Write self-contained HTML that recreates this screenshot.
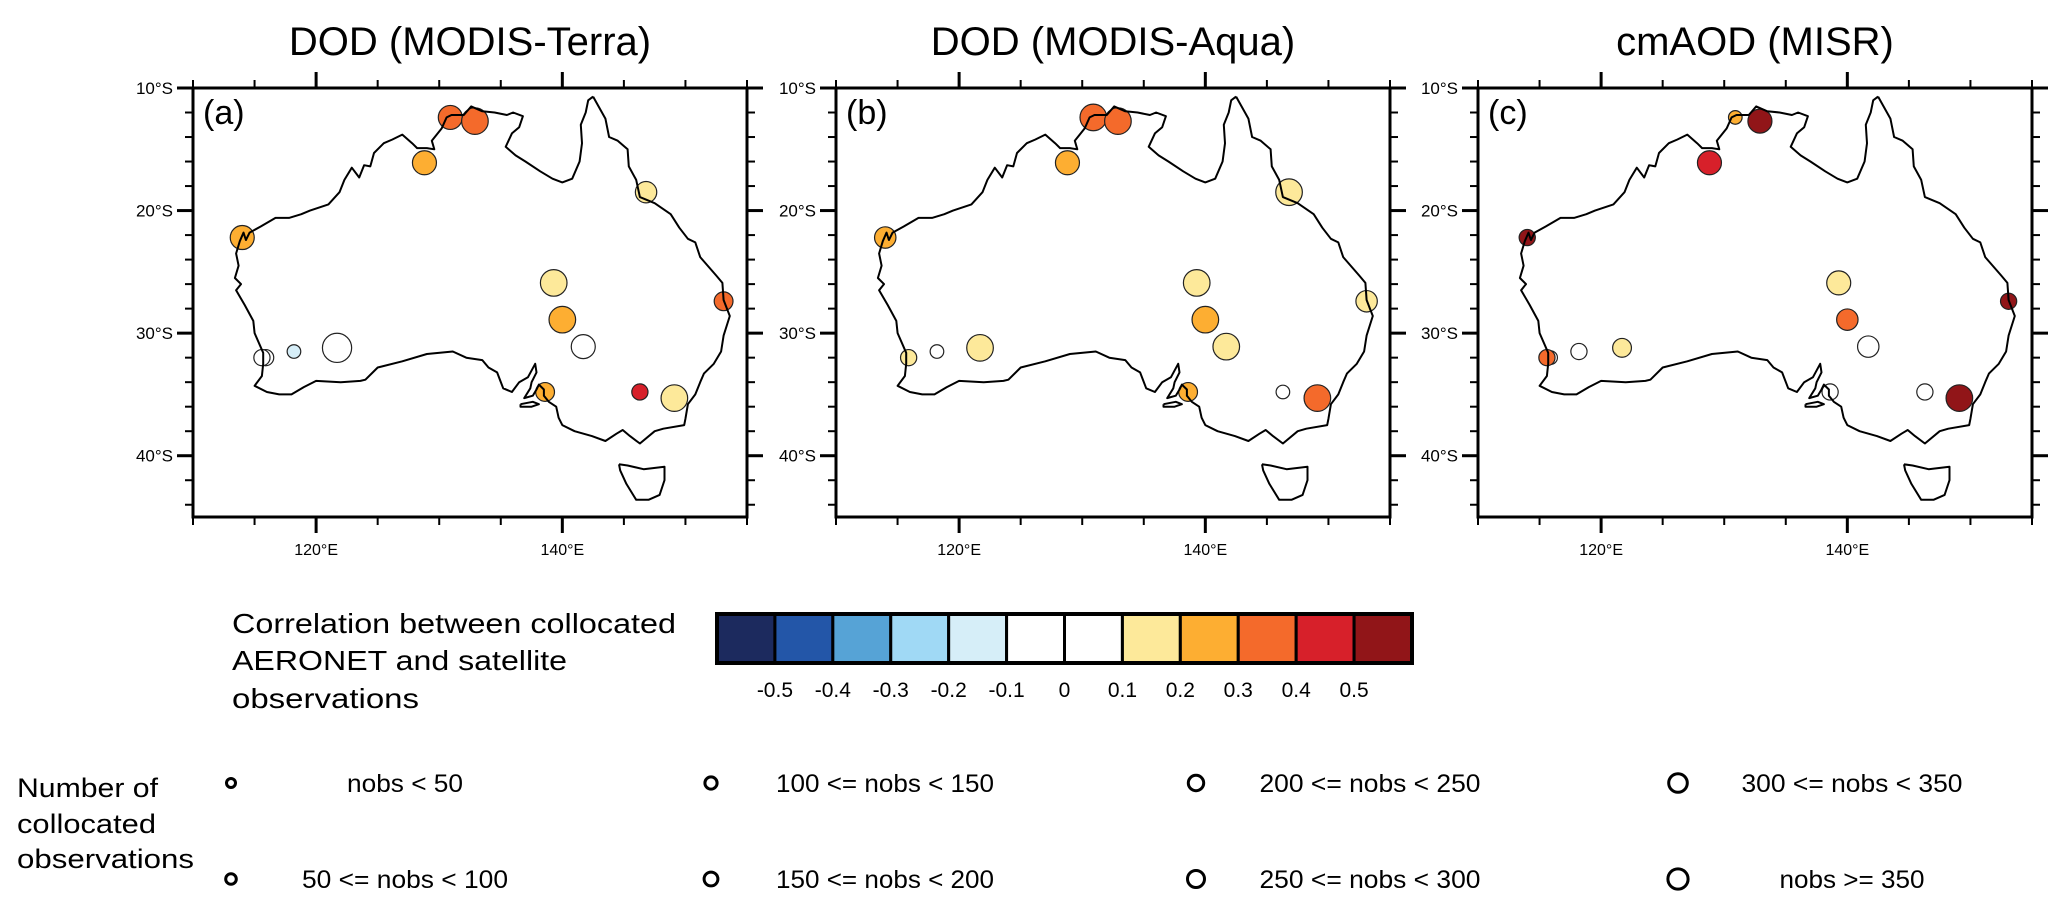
<!DOCTYPE html>
<html><head><meta charset="utf-8"><style>
html,body{margin:0;padding:0;background:#fff;}
svg{display:block;font-family:"Liberation Sans",Arial,sans-serif;}
</style></head><body>
<svg id="fig" width="2067" height="909" viewBox="0 0 2067 909"></svg>
<script>
// ---- data ----
const siteLon = [130.9,132.9,128.8,114.0,146.8,139.3,140.0,141.7,153.1,115.9,118.2,121.7,138.6,146.3,149.1,115.6];
const siteLat = [-12.4,-12.7,-16.1,-22.2,-18.5,-25.9,-28.9,-31.1,-27.4,-32.0,-31.5,-31.2,-34.8,-34.8,-35.3,-32.0];
const corrA = [0.35,0.35,0.25,0.25,0.15,0.15,0.25,0.05,0.35,0.05,-0.15,0.05,0.25,0.45,0.15,0.05];
const nobsA = [280,300,280,250,200,320,320,280,150,100,50,360,150,120,330,100];
const corrB = [0.35,0.35,0.25,0.25,0.15,0.15,0.25,0.15,0.15,0.15,0.05,0.15,0.25,0.05,0.35,NaN];
const nobsB = [300,330,280,200,320,300,320,300,200,100,60,300,150,60,320,NaN];
const corrC = [0.25,0.55,0.45,0.55,NaN,0.15,0.35,0.05,0.55,0.05,0.05,0.15,0.05,0.05,0.55,0.35];
const nobsC = [60,250,280,100,NaN,280,200,200,100,80,100,150,100,100,320,100];
const panelTitles = ["DOD (MODIS-Terra)","DOD (MODIS-Aqua)","cmAOD (MISR)"];
const panelLabels = ["(a)","(b)","(c)"];
const cbColors = ["#1c2a5e","#2356a8","#56a3d6","#a0d9f5","#d6eef8","#ffffff","#ffffff","#fde99a","#fdae32","#f46a2b","#d7202a","#911518"];
const cbTicks = ["-0.5","-0.4","-0.3","-0.2","-0.1","0","0.1","0.2","0.3","0.4","0.5"];
const latTicks = [-10,-20,-30,-40];
const lonTicks = [120,140];
const nobsLabels = ["nobs < 50","50 <= nobs < 100","100 <= nobs < 150","150 <= nobs < 200","200 <= nobs < 250","250 <= nobs < 300","300 <= nobs < 350","nobs >= 350"];
const coast = [[142.5,-10.7],[143.5,-12.5],[143.8,-14.0],[144.5,-14.3],[145.3,-15],[145.4,-16.4],[146.0,-17.5],[146.3,-18.9],[147.5,-19.4],[148.8,-20.3],[149.5,-21.4],[150.2,-22.3],[150.8,-22.6],[151.2,-23.8],[152.5,-25.3],[153.0,-25.9],[153.1,-27.3],[153.6,-28.6],[153.1,-30.2],[152.9,-31.5],[152.3,-32.5],[151.5,-33.3],[151.2,-34.0],[150.8,-35.0],[150.2,-35.8],[150.0,-37.0],[149.9,-37.5],[148.2,-37.8],[147.5,-38.0],[146.3,-39.0],[145.5,-38.4],[144.9,-37.9],[144.4,-38.2],[143.5,-38.8],[142.4,-38.4],[141.0,-38.0],[140.0,-37.5],[139.7,-36.9],[139.5,-36.0],[138.9,-35.6],[138.5,-35.1],[138.5,-34.6],[138.1,-34.2],[137.9,-34.6],[137.6,-35.1],[136.9,-35.3],[137.4,-34.5],[137.5,-34.0],[137.9,-33.2],[137.8,-32.5],[137.2,-33.6],[136.5,-34.0],[135.9,-34.8],[135.2,-34.5],[134.7,-33.2],[134.0,-32.8],[133.5,-32.2],[132.2,-32.0],[131.1,-31.5],[129.0,-31.7],[127.0,-32.3],[125.0,-32.8],[124.0,-33.8],[123.6,-33.9],[122.0,-34.0],[120.0,-33.9],[119.0,-34.4],[118.0,-35.0],[117.0,-35.0],[116.0,-34.8],[115.0,-34.3],[115.6,-33.5],[115.7,-32.5],[115.7,-31.6],[115.0,-30.0],[114.9,-29.0],[114.2,-27.7],[113.5,-26.5],[113.9,-26.0],[113.4,-25.5],[113.7,-24.5],[113.5,-23.5],[113.8,-22.5],[114.1,-21.8],[114.3,-22.4],[114.6,-21.8],[115.5,-21.3],[116.7,-20.6],[117.8,-20.6],[118.8,-20.3],[119.5,-20.0],[121.0,-19.5],[121.9,-18.5],[122.3,-17.5],[122.9,-16.5],[123.5,-17.3],[123.9,-16.3],[124.4,-16.4],[124.7,-15.3],[125.5,-14.5],[126.2,-14.2],[127.0,-13.8],[127.8,-14.5],[128.2,-14.9],[129.0,-14.9],[129.6,-15.0],[129.4,-14.3],[130.2,-13.3],[130.6,-12.4],[131.0,-12.2],[132.0,-12.2],[132.6,-11.5],[133.5,-11.9],[134.5,-12.0],[135.5,-12.2],[136.0,-12.0],[136.8,-12.3],[136.5,-13.2],[135.9,-13.7],[135.4,-14.8],[136.2,-15.5],[137.0,-16.0],[138.2,-16.8],[139.2,-17.4],[140.0,-17.7],[140.8,-17.4],[141.4,-16.0],[141.6,-14.5],[141.5,-13.0],[141.9,-12.0],[142.1,-11.0],[142.5,-10.7]];
const tasmania = [[144.6,-40.7],[145.3,-40.8],[146.6,-41.1],[148.3,-40.9],[148.3,-42.0],[147.9,-43.2],[147.0,-43.6],[146.0,-43.6],[145.2,-42.3],[144.7,-41.2],[144.6,-40.7]];
const kangaroo = [[136.6,-35.8],[137.6,-35.6],[138.1,-35.8],[137.5,-36.0],[136.6,-36.0],[136.6,-35.8]];

// ---- layout ----
const NS='http://www.w3.org/2000/svg';
const svg=document.getElementById('fig');
function mk(tag,attrs,parent){const e=document.createElementNS(NS,tag);for(const k in attrs)e.setAttribute(k,attrs[k]);(parent||svg).appendChild(e);return e;}
const panelX=[193,836,1478], PW=554, PT=88, PH=429;
const lon0=110, lon1=155, lat0=-10, lat1=-45;
function colorIdx(c){let i=Math.floor((c+0.5)/0.1+1e-9)+1;return Math.max(0,Math.min(11,i));}
function nobsClass(n){return Math.max(0,Math.min(7,Math.floor(n/50)));}
const corrs=[corrA,corrB,corrC], nobss=[nobsA,nobsB,nobsC];

for(let p=0;p<3;p++){
  const x0=panelX[p];
  const sx=lon=>x0+(lon-lon0)/(lon1-lon0)*PW;
  const sy=lat=>PT+(lat0-lat)/(lat0-lat1)*PH;
  const g=mk('g',{},svg);
  
  
  const t=mk('text',{x:x0+PW/2,y:55,'font-size':40,'text-anchor':'middle',fill:'#000'},g);
  
  
  t.textContent=panelTitles[p];
  const cp=mk('clipPath',{id:'clip'+p},g);
  mk('rect',{x:x0,y:PT,width:PW,height:PH},cp);
  const inner=mk('g',{'clip-path':'url(#clip'+p+')'},g);
  // sites
  for(let i=0;i<siteLon.length;i++){
    const c=corrs[p][i], n=nobss[p][i];
    if(isNaN(c))continue;
    const r=5.5+1.3*nobsClass(n);
    const ci=mk('circle',{cx:sx(siteLon[i]),cy:sy(siteLat[i]),r:r,fill:cbColors[colorIdx(c)],stroke:'#222','stroke-width':1.2},inner);
    
    
  }
  // coastline
  [coast,tasmania,kangaroo].forEach((poly,k)=>{
    const d=poly.map((q,j)=>(j?'L':'M')+sx(q[0]).toFixed(1)+' '+sy(q[1]).toFixed(1)).join(' ');
    const pa=mk('path',{d:d,fill:'none',stroke:'#000','stroke-width':2,'stroke-linejoin':'round'},inner);
    
    
  });
  // frame
  const fr=mk('rect',{x:x0,y:PT,width:PW,height:PH,fill:'none',stroke:'#000','stroke-width':3},g);
  
  
  // lat ticks every 2 deg
  for(let lat=-10;lat>=-45;lat-=2.5/1.25){
    const y=sy(lat), major=(Math.abs(lat)%10===0);
    const L=major?16:8;
    mk('line',{x1:x0-L,y1:y,x2:x0,y2:y,stroke:'#000','stroke-width':major?3:2},g);
    mk('line',{x1:x0+PW,y1:y,x2:x0+PW+L,y2:y,stroke:'#000','stroke-width':major?3:2},g);
  }
  latTicks.forEach(lat=>{
    const tt=mk('text',{x:x0-20,y:sy(lat)+6,'font-size':17,'text-anchor':'end'},g);
    
    
    tt.textContent=Math.abs(lat)+'°S';
  });
  for(let lon=110;lon<=155;lon+=5){
    const x=sx(lon), major=lonTicks.includes(lon);
    const L=major?16:8;
    mk('line',{x1:x,y1:PT,x2:x,y2:PT-L,stroke:'#000','stroke-width':major?3:2},g);
    mk('line',{x1:x,y1:PT+PH,x2:x,y2:PT+PH+L,stroke:'#000','stroke-width':major?3:2},g);
  }
  lonTicks.forEach(lon=>{
    const tt=mk('text',{x:sx(lon),y:555,'font-size':16,'text-anchor':'middle'},g);
    
    
    tt.textContent=lon+'°E';
  });
  const pl=mk('text',{x:x0+10,y:124,'font-size':34},g);
  
  
  pl.textContent=panelLabels[p];
}

// colorbar
const cbg=mk('g',{});


const cbX=717, cbY=614, cbW=695, cbH=49, bw=cbW/cbColors.length;
cbColors.forEach((c,i)=>{
  const r=mk('rect',{x:cbX+i*bw,y:cbY,width:bw,height:cbH,fill:c,stroke:'#000','stroke-width':3},cbg);
  
  
});
mk('rect',{x:cbX,y:cbY,width:cbW,height:cbH,fill:'none',stroke:'#000','stroke-width':4},cbg);
cbTicks.forEach((s,i)=>{
  const t=mk('text',{x:cbX+(i+1)*bw,y:697,'font-size':21,'text-anchor':'middle'},cbg);
  
  
  t.textContent=s;
});
[["Correlation between collocated",633,444],["AERONET and satellite",670,335],["observations",708,187]].forEach(a=>{
  const t=mk('text',{x:232,y:a[1],'font-size':28,textLength:a[2],lengthAdjust:'spacingAndGlyphs'},cbg);
  
  
  t.textContent=a[0];
});

// size legend
const lg=mk('g',{});


[["Number of",797,141],["collocated",833,139],["observations",868,177]].forEach(a=>{
  const t=mk('text',{x:17,y:a[1],'font-size':27,textLength:a[2],lengthAdjust:'spacingAndGlyphs'},lg);
  
  
  t.textContent=a[0];
});
const colX=[231,711,1196,1678], rowY=[783,879];
const labW=[116,206,218,218,221,221,221,145];
nobsLabels.forEach((s,k)=>{
  const cx=colX[Math.floor(k/2)], cy=rowY[k%2];
  const c=mk('circle',{cx:cx,cy:cy,r:4.5+0.8*k,fill:'none',stroke:'#000','stroke-width':3},lg);
  
  
  const t=mk('text',{x:cx+174,y:cy+9,'font-size':25,'text-anchor':'middle',textLength:labW[k],lengthAdjust:'spacingAndGlyphs'},lg);
  
  
  t.textContent=s;
});
</script>
</body></html>
